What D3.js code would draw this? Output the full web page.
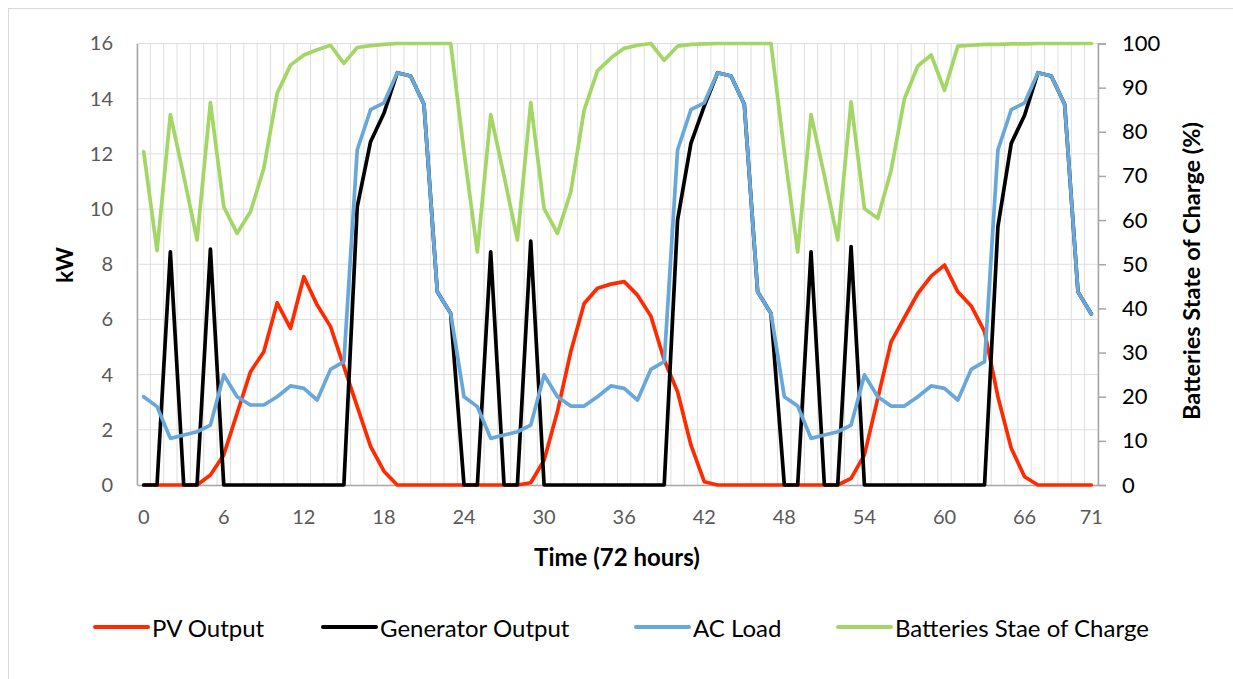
<!DOCTYPE html>
<html><head><meta charset="utf-8">
<script src="https://cdn.jsdelivr.net/npm/d3@7"></script>
<style>
body{margin:0;background:#fff;}
svg{display:block;font-family:Lato,"Open Sans",sans-serif;}
</style></head><body>
<svg id="c" width="1233" height="679"></svg>
<script>
const hours = d3.range(72);
const xTickLabels = [0,6,12,18,24,30,36,42,48,54,60,66,71];
const kwTicks = [0,2,4,6,8,10,12,14,16];
const socTicks = [0,10,20,30,40,50,60,70,80,90,100];

const pvOutput = [0,0,0,0,0,0.36,1.09,2.6,4.1,4.83,6.6,5.68,7.55,6.52,5.74,4.29,2.84,1.4,0.5,0,0,0,0,0,
  0,0,0,0,0,0.08,0.9,2.66,4.83,6.58,7.13,7.28,7.37,6.88,6.12,4.53,3.38,1.45,0.12,0,0,0,0,0,
  0,0,0,0,0,0.24,1.09,3.14,5.19,6.07,6.94,7.57,7.97,7.0,6.49,5.56,3.2,1.33,0.3,0,0,0,0,0];
const generatorOutput = [0,0,8.45,0,0,8.55,0,0,0,0,0,0,0,0,0,0,10.08,12.44,13.47,14.94,14.82,13.8,7.0,6.22,
  0,0,8.45,0,0,8.84,0,0,0,0,0,0,0,0,0,0,9.6,12.38,13.73,14.94,14.82,13.8,7.0,6.22,
  0,0,8.45,0,0,8.64,0,0,0,0,0,0,0,0,0,0,9.36,12.38,13.4,14.94,14.82,13.8,7.0,6.2];
const acLoad = [3.2,2.84,1.69,1.81,1.93,2.17,3.99,3.2,2.9,2.9,3.2,3.59,3.5,3.08,4.19,4.47,12.14,13.6,13.85,14.94,14.82,13.8,7.0,6.22,
  3.2,2.84,1.69,1.81,1.93,2.17,3.99,3.2,2.86,2.86,3.2,3.59,3.5,3.08,4.19,4.47,12.14,13.6,13.85,14.94,14.82,13.8,7.0,6.22,
  3.2,2.86,1.69,1.81,1.93,2.17,3.99,3.2,2.86,2.86,3.2,3.59,3.5,3.08,4.19,4.47,12.14,13.6,13.85,14.94,14.82,13.8,7.0,6.2];
const batterySoc = [75.5,53.1,83.9,70,55.5,86.6,63.0,57.0,61.9,71.7,88.7,95.1,97.4,98.6,99.6,95.5,99.1,99.5,99.8,100,100,100,100,100,
  75.5,52.8,83.9,70,55.5,86.6,62.6,57.0,66.4,84.9,93.8,96.7,98.9,99.6,100,96.2,99.4,99.8,99.9,100,100,100,100,100,
  75.5,52.8,83.9,70,55.5,86.8,62.6,60.4,71.3,87.5,94.9,97.4,89.4,99.4,99.6,99.8,99.8,99.9,99.9,100,100,100,100,100];

const series = [
  {name:"PV Output", values: pvOutput, color:"#ff2a00", axis:"kw"},
  {name:"Generator Output", values: generatorOutput, color:"#000000", axis:"kw"},
  {name:"AC Load", values: acLoad, color:"#67a7da", axis:"kw"},
  {name:"Batteries Stae of Charge", values: batterySoc, color:"#a2d665", axis:"soc"}
];

const svg = d3.select("#c");
const L = 137, R = 1098, T = 43.5, B = 485;

// outer border
svg.append("rect").attr("x",8.5).attr("y",8.5).attr("width",1240).attr("height",700)
  .attr("fill","none").attr("stroke","#d9d9d9").attr("stroke-width",1);

const x = d3.scaleBand().domain(hours).range([L,R]).padding(0);
const yk = d3.scaleLinear().domain([0,16]).range([B,T]);
const ys = d3.scaleLinear().domain([0,100]).range([B,T]);
const cx = i => x(i) + x.bandwidth()/2;

// gridlines
const g = svg.append("g");
g.selectAll("line.v").data(d3.range(73)).join("line")
  .attr("x1", i => L + i*x.bandwidth()).attr("x2", i => L + i*x.bandwidth())
  .attr("y1", T).attr("y2", B).attr("stroke","#dedede").attr("stroke-width",1);
g.selectAll("line.h").data(kwTicks.slice(1)).join("line")
  .attr("x1", L).attr("x2", R).attr("y1", d => yk(d)).attr("y2", d => yk(d))
  .attr("stroke","#dedede").attr("stroke-width",1);

// left axis
const la = svg.append("g").attr("transform",`translate(${L},0)`)
  .call(d3.axisLeft(yk).tickValues(kwTicks).tickSize(0).tickPadding(24));
la.select(".domain").attr("stroke","#a6a6a6").attr("stroke-width",1.5);
la.selectAll("text").attr("fill","#595959").style("font-size","20px").style("font-family","Lato");

// right axis
const ra = svg.append("g").attr("transform",`translate(${R},0)`)
  .call(d3.axisRight(ys).tickValues(socTicks).tickSize(8).tickPadding(16));
ra.select(".domain").attr("stroke","#a6a6a6").attr("stroke-width",1.5);
ra.selectAll(".tick line").attr("stroke","#a6a6a6").attr("stroke-width",1.5);
ra.selectAll("text").attr("fill","#000").style("font-size","22px").style("font-family","Lato");

// bottom axis
const ba = svg.append("g").attr("transform",`translate(0,${B})`)
  .call(d3.axisBottom(x).tickValues(xTickLabels).tickSize(0).tickPadding(25));
ba.select(".domain").attr("stroke","#a6a6a6").attr("stroke-width",1.5);
ba.selectAll("text").attr("fill","#595959").style("font-size","20px").style("font-family","Lato");

// lines
series.forEach(s => {
  const ys_ = s.axis === "kw" ? yk : ys;
  const line = d3.line().x((d,i) => cx(i)).y(d => ys_(d));
  svg.append("path").datum(s.values).attr("d", line)
    .attr("fill","none").attr("stroke", s.color).attr("stroke-width",3.7)
    .attr("stroke-linejoin","round").attr("stroke-linecap","round");
});

// axis titles
svg.append("text").attr("transform",`translate(73,265) rotate(-90)`).attr("text-anchor","middle")
  .style("font-weight","bold").style("font-size","23px").attr("fill","#000").text("kW");
svg.append("text").attr("transform",`translate(1200,271) rotate(-90)`).attr("text-anchor","middle")
  .style("font-weight","bold").style("font-size","23.5px").attr("fill","#000").text("Batteries State of Charge (%)");
svg.append("text").attr("x",617).attr("y",566).attr("text-anchor","middle")
  .style("font-weight","bold").style("font-size","24px").attr("fill","#000").text("Time (72 hours)");

// legend
const legX = [95, 323, 636, 838];
const lg = svg.append("g");
series.forEach((s,i) => {
  lg.append("line").attr("x1",legX[i]).attr("x2",legX[i]+53).attr("y1",627).attr("y2",627)
    .attr("stroke",s.color).attr("stroke-width",4).attr("stroke-linecap","round");
  lg.append("text").attr("x",legX[i]+57).attr("y",637).style("font-size","24px").attr("fill","#000").text(s.name);
});
</script>
</body></html>
